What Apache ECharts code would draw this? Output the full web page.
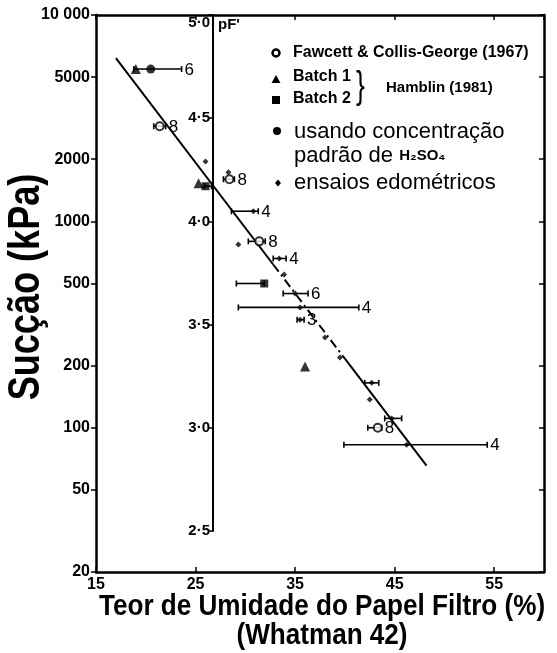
<!DOCTYPE html>
<html><head><meta charset="utf-8">
<script src="https://cdn.jsdelivr.net/npm/echarts@6/dist/echarts.min.js"></script>
<style>html,body{margin:0;padding:0;background:#fff}#c{width:557px;height:653px}</style>
</head><body><div id="c"></div>
<script>
const FONT = '"Liberation Sans", Arial, Helvetica, sans-serif';

// Axis tick values
const xTicks = [15, 25, 35, 45, 55];
const yTicks = [20, 50, 100, 200, 500, 1000, 2000, 5000, 10000];
const pfTicks = [2.5, 3.0, 3.5, 4.0, 4.5, 5.0];

// Fawcett & Collis-George (1967)
const fawX = [21.4, 28.4, 31.4, 43.3];
const fawY = [2890, 1600, 800, 100];
const fawLo = [20.8, 27.8, 30.3, 42.3];
const fawHi = [22.0, 28.9, 32.0, 43.7];
const fawN = ['8', '8', '8', '8'];

// usando concentração padrão de H2SO4
const acidX = [20.5];
const acidY = [5470];
const acidLo = [18.8];
const acidHi = [23.6];
const acidN = ['6'];

// Hamblin (1981) Batch 1
const batch1X = [19.0, 25.3, 36.0];
const batch1Y = [5470, 1530, 198];

// Hamblin (1981) Batch 2
const batch2X = [26.0, 31.9];
const batch2Y = [1480, 500];
const batch2Lo = [25.9, 29.1];
const batch2Hi = [26.6, 31.9];

// ensaios edométricos
const edoX = [26.0, 28.3, 30.8, 29.3, 33.4, 33.9, 35.0, 35.5, 35.5, 38.0, 39.5, 42.7, 42.5, 44.7, 46.2];
const edoY = [1950, 1730, 1120, 773, 661, 553, 447, 383, 334, 274, 219, 165, 137, 111, 82.7];
const edoLo = [null, null, 28.6, null, 32.8, null, 33.8, 29.3, 35.2, null, null, 42.0, null, 44.0, 39.9];
const edoHi = [null, null, 31.3, null, 34.1, null, 36.3, 41.4, 35.9, null, null, 43.4, null, 45.7, 54.3];
const edoN = ['', '', '4', '', '4', '', '6', '4', '3', '', '', '', '', '', '4'];

// fitted line (solid - dashed - solid)
const fitX = [17.0, 32.8, 40.0, 48.2];
const fitY = [6180, 618, 216, 65.5];

// ---- build ----
const bars = [], barLabels = [];
function addBars(xs, ys, lo, hi, n) {
  for (let i = 0; i < xs.length; i++) {
    if (lo[i] == null) continue;
    bars.push([lo[i], ys[i], hi[i]]);
    barLabels.push(n ? n[i] : '');
  }
}
addBars(acidX, acidY, acidLo, acidHi, acidN);
addBars(fawX, fawY, fawLo, fawHi, fawN);
addBars(batch2X, batch2Y, batch2Lo, batch2Hi, null);
addBars(edoX, edoY, edoLo, edoHi, edoN);

const zip = (a, b) => a.map((v, i) => [v, b[i]]);
const L = Math.log10;

const chart = echarts.init(document.getElementById('c'), null, {renderer: 'canvas'});
const black = '#000';
const tickLbl = {color: black, fontFamily: FONT, fontWeight: 'bold', fontSize: 16};

const option = {
  backgroundColor: '#fff',
  animation: false,
  grid: [
    {left: 96, top: 15, width: 448, height: 557, containLabel: false, outerBoundsMode: 'none'},
    {left: 213, top: 15, width: 1, height: 516, containLabel: false, outerBoundsMode: 'none'}
  ],
  xAxis: [
    {gridIndex: 0, type: 'value', min: 15, max: 60, interval: 10, position: 'bottom',
     axisLine: {lineStyle: {color: black, width: 2.5}},
     axisTick: {inside: true, length: 5, lineStyle: {color: black, width: 1.5}},
     axisLabel: Object.assign({margin: 5, showMaxLabel: false}, tickLbl),
     splitLine: {show: false}},
    {gridIndex: 0, type: 'value', min: 15, max: 60, interval: 10, position: 'top',
     axisLine: {lineStyle: {color: black, width: 2.5}},
     axisTick: {inside: true, length: 5, lineStyle: {color: black, width: 1.5}},
     axisLabel: {show: false}, splitLine: {show: false}},
    {gridIndex: 1, type: 'value', min: 0, max: 1, show: false}
  ],
  yAxis: [
    {gridIndex: 0, type: 'log', logBase: 10, min: 20, max: 10000, show: false},
    {gridIndex: 0, type: 'value', min: L(20), max: 4, position: 'left',
     axisLine: {show: true, lineStyle: {color: black, width: 2.5}},
     axisTick: {show: true, inside: false, length: 5, customValues: yTicks.map(L), lineStyle: {color: black, width: 1.5}},
     axisLabel: Object.assign({margin: 6, customValues: yTicks.map(L),
       formatter: v => { const r = Math.round(Math.pow(10, v)); return r === 10000 ? '10 000' : String(r); }}, tickLbl),
     splitLine: {show: false}},
    {gridIndex: 0, type: 'value', min: L(20), max: 4, position: 'right',
     axisLine: {show: true, lineStyle: {color: black, width: 2.5}},
     axisTick: {show: true, inside: true, length: 5, customValues: yTicks.map(L), lineStyle: {color: black, width: 1.5}},
     axisLabel: {show: false}, splitLine: {show: false}},
    {gridIndex: 1, type: 'value', min: 2.5, max: 5, interval: 0.5, position: 'left',
     axisLine: {show: true, lineStyle: {color: black, width: 2}},
     axisTick: {show: true, inside: false, length: 5, lineStyle: {color: black, width: 1.5}},
     axisLabel: Object.assign({margin: 3, verticalAlignMaxLabel: 'top',
       formatter: v => v.toFixed(1).replace('.', '·')}, tickLbl, {fontSize: 15}),
     splitLine: {show: false}}
  ],
  series: [
    {type: 'line', xAxisIndex: 0, yAxisIndex: 0, data: zip(fitX, fitY).slice(0, 2), symbol: 'none',
     lineStyle: {color: black, width: 2}, z: 2},
    {type: 'line', xAxisIndex: 0, yAxisIndex: 0, data: zip(fitX, fitY).slice(1, 3), symbol: 'none',
     lineStyle: {color: black, width: 2, type: [9, 4, 2, 4]}, z: 2},
    {type: 'line', xAxisIndex: 0, yAxisIndex: 0, data: zip(fitX, fitY).slice(2, 4), symbol: 'none',
     lineStyle: {color: black, width: 2}, z: 2},
    {type: 'custom', xAxisIndex: 0, yAxisIndex: 0, data: bars, encode: {x: [0, 2], y: 1}, z: 3,
     renderItem: (params, api) => {
       const y = api.value(1);
       const a = api.coord([api.value(0), y]);
       const b = api.coord([api.value(2), y]);
       const st = {stroke: black, lineWidth: 1.6};
       const ch = [
         {type: 'line', shape: {x1: a[0], y1: a[1], x2: b[0], y2: b[1]}, style: st},
         {type: 'line', shape: {x1: a[0], y1: a[1] - 3, x2: a[0], y2: a[1] + 3}, style: st},
         {type: 'line', shape: {x1: b[0], y1: b[1] - 3, x2: b[0], y2: b[1] + 3}, style: st}
       ];
       const lab = barLabels[params.dataIndex];
       if (lab) ch.push({type: 'text', style: {text: lab, x: b[0] + 3, y: b[1] + 1, verticalAlign: 'middle',
         font: '17px ' + FONT, fill: black}});
       return {type: 'group', children: ch};
     }},
    {name: 'Fawcett', type: 'scatter', xAxisIndex: 0, yAxisIndex: 0, data: zip(fawX, fawY),
     symbol: 'emptyCircle', symbolSize: 8, itemStyle: {color: black, borderColor: black, borderWidth: 2.5}, z: 5},
    {name: 'H2SO4', type: 'scatter', xAxisIndex: 0, yAxisIndex: 0, data: zip(acidX, acidY),
     symbol: 'circle', symbolSize: 9, itemStyle: {color: black}, z: 5},
    {name: 'Batch 1', type: 'scatter', xAxisIndex: 0, yAxisIndex: 0, data: zip(batch1X, batch1Y),
     symbol: 'triangle', symbolSize: 10, itemStyle: {color: black}, z: 5},
    {name: 'Batch 2', type: 'scatter', xAxisIndex: 0, yAxisIndex: 0, data: zip(batch2X, batch2Y),
     symbol: 'rect', symbolSize: 8, itemStyle: {color: black}, z: 5},
    {name: 'edo', type: 'scatter', xAxisIndex: 0, yAxisIndex: 0, data: zip(edoX, edoY),
     symbol: 'diamond', symbolSize: 6, itemStyle: {color: black}, z: 5}
  ],
  graphic: [
    // pF' label
    {type: 'text', x: 218, y: 17, style: {text: "pF'", font: 'bold 15px ' + FONT, fill: black}},
    // legend
    {type: 'circle', shape: {cx: 276, cy: 53, r: 3.5}, style: {fill: '#fff', stroke: black, lineWidth: 2.5}},
    {type: 'text', x: 293, y: 53, style: {text: 'Fawcett & Collis-George (1967)', font: 'bold 16px ' + FONT, fill: black, verticalAlign: 'middle'}},
    {type: 'polygon', shape: {points: [[276, 75], [271.5, 83], [280.5, 83]]}, style: {fill: black}},
    {type: 'text', x: 293, y: 77, style: {text: 'Batch 1', font: 'bold 16px ' + FONT, fill: black, verticalAlign: 'middle'}},
    {type: 'rect', shape: {x: 272, y: 96, width: 8, height: 8}, style: {fill: black}},
    {type: 'text', x: 293, y: 99, style: {text: 'Batch 2', font: 'bold 16px ' + FONT, fill: black, verticalAlign: 'middle'}},
    {type: 'text', x: 356, y: 88, scaleX: 0.7, style: {text: '}', font: '38px ' + FONT, fill: black, verticalAlign: 'middle'}},
    {type: 'text', x: 386, y: 88, style: {text: 'Hamblin (1981)', font: 'bold 15px ' + FONT, fill: black, verticalAlign: 'middle'}},
    {type: 'circle', shape: {cx: 277, cy: 131, r: 4}, style: {fill: black}},
    {type: 'text', x: 294, y: 132, style: {text: 'usando concentração', font: '22px ' + FONT, fill: black, verticalAlign: 'middle'}},
    {type: 'text', x: 294, y: 156, style: {
      text: 'padrão de {h|H₂SO₄}', font: '22px ' + FONT, fill: black, verticalAlign: 'middle',
      rich: {h: {font: 'bold 15px ' + FONT, fill: black}}}},
    {type: 'polygon', shape: {points: [[278, 179.5], [281, 183], [278, 186.5], [275, 183]]}, style: {fill: black}},
    {type: 'text', x: 294, y: 183, style: {text: 'ensaios edométricos', font: '22px ' + FONT, fill: black, verticalAlign: 'middle'}},
    // axis titles
    {type: 'text', x: 27, y: 287, rotation: Math.PI / 2, scaleX: 0.82,
     style: {text: 'Sucção (kPa)', font: 'bold 44px ' + FONT, fill: black, align: 'center', verticalAlign: 'middle'}},
    {type: 'text', x: 322, y: 607, scaleX: 0.87,
     style: {text: 'Teor de Umidade do Papel Filtro (%)', font: 'bold 30px ' + FONT, fill: black, align: 'center', verticalAlign: 'middle'}},
    {type: 'text', x: 322, y: 636, scaleX: 0.87,
     style: {text: '(Whatman 42)', font: 'bold 30px ' + FONT, fill: black, align: 'center', verticalAlign: 'middle'}}
  ]
};
chart.setOption(option);
</script>
</body></html>
